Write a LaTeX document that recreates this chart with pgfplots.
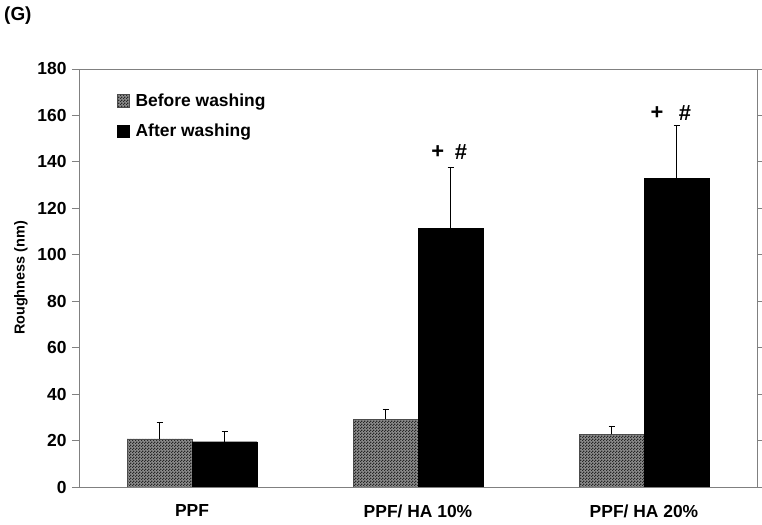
\documentclass[border=0pt]{standalone}
\usepackage{pgfplots}
\pgfplotsset{compat=1.18}
\usepackage{fontspec}
\setmainfont{Liberation Sans}
\usetikzlibrary{patterns}
\pgfdeclarepatternformonly{finecheck}{\pgfpointorigin}{\pgfqpoint{3bp}{3bp}}{\pgfqpoint{3bp}{3bp}}{%
\pgfpathrectangle{\pgfpointorigin}{\pgfqpoint{1.5bp}{1.5bp}}%
\pgfpathrectangle{\pgfqpoint{1.5bp}{1.5bp}}{\pgfqpoint{1.5bp}{1.5bp}}%
\pgfusepath{fill}}
\definecolor{framegray}{RGB}{128,128,128}
\begin{document}
\begin{tikzpicture}
\path[use as bounding box] (0,0) rectangle (762bp,525bp);
\node[anchor=west,font=\bfseries\fontsize{19}{22}\selectfont,inner sep=0pt] at (4bp,509bp) {(G)};
\begin{axis}[
  at={(79bp,38bp)}, anchor=south west,
  scale only axis, width=678bp, height=418bp,
  ybar=0pt, bar width=65bp,
  xmin=-0.5, xmax=2.5, ymin=0, ymax=180,
  xtick={0,1,2},
  xticklabels={PPF, PPF/ HA 10\%, PPF/ HA 20\%},
  x tick style={draw=none},
  extra x ticks={0.5,1.5},
  extra x tick labels={},
  extra x tick style={tick align=center, major tick length=15bp, tick style={draw=framegray, line width=0.8pt}},
  ytick={0,20,...,180},
  tick align=outside,
  major tick length=7bp,
  y tick style={framegray, line width=0.8pt},
  axis line style={framegray, line width=0.8pt},
  /pgf/number format/assume math mode=true,
  ticklabel style={font=\bfseries\fontsize{17.5}{20}\selectfont},
  yticklabel style={xshift=-2bp},
  xticklabel style={yshift=-7bp},
  ylabel={Roughness (nm)},
  ylabel style={at={(axis description cs:-0.0855,0.5)}, anchor=center, font=\bfseries\fontsize{14.5}{17}\selectfont},
  legend style={at={(axis description cs:0.056,0.945)}, anchor=north west, draw=none, fill=none,
    font=\bfseries\fontsize{17.5}{20}\selectfont, row sep=12bp, inner sep=0pt},
  legend cell align=left,
  legend image code/.code={\draw[#1] (0bp,-6bp) rectangle (12bp,6.5bp);},
  error bars/y dir=plus, error bars/y explicit,
  error bars/error bar style={black, line width=0.8pt},
  error bars/error mark options={rotate=90, mark size=3bp, black, line width=0.8pt},
]
\addplot[draw=black!70, line width=0.5pt, fill=gray!90, postaction={pattern=finecheck, pattern color=black!85}]
  coordinates {(0,20.7) +- (0,7.0) (1,29.2) +- (0,4.4) (2,22.7) +- (0,3.6)};
\addplot[draw=black, fill=black]
  coordinates {(0,19.5) +- (0,4.5) (1,111.5) +- (0,26.0) (2,132.8) +- (0,22.8)};
\legend{\hspace*{4bp}Before washing, \hspace*{4bp}After washing}
\node[font=\bfseries\fontsize{22}{24}\selectfont] at (axis cs:1.088,144.3) {+};
\node[font=\bfseries\fontsize{22}{24}\selectfont] at (axis cs:1.19,144.3) {\#};
\node[font=\bfseries\fontsize{22}{24}\selectfont] at (axis cs:2.058,161) {+};
\node[font=\bfseries\fontsize{22}{24}\selectfont] at (axis cs:2.181,161) {\#};
\end{axis}
\end{tikzpicture}
\end{document}
